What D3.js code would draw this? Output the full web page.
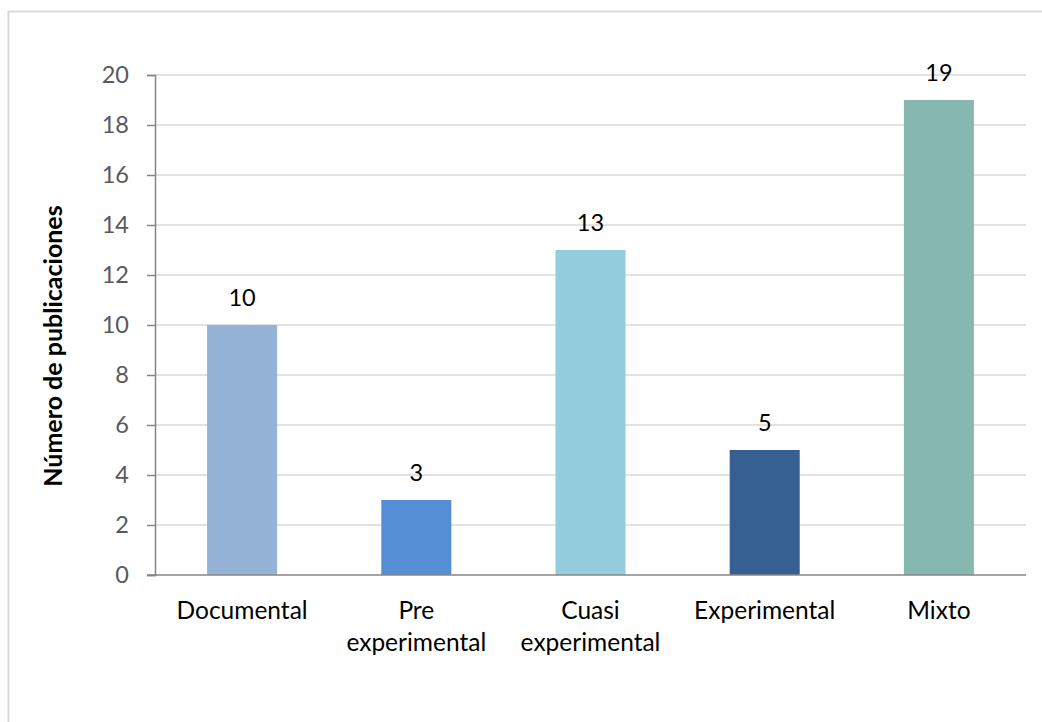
<!DOCTYPE html>
<html>
<head>
<meta charset="utf-8">
<script src="https://cdn.jsdelivr.net/npm/d3@7"></script>
<style>
html,body{margin:0;padding:0;background:#fff;}
svg{display:block;}
text{font-family:Lato,"Open Sans",sans-serif;}
</style>
</head>
<body>
<svg id="chart" width="1042" height="722"></svg>
<script>
const categories = [["Documental"], ["Pre", "experimental"], ["Cuasi", "experimental"], ["Experimental"], ["Mixto"]];
const categoryKeys = ["Documental", "Pre experimental", "Cuasi experimental", "Experimental", "Mixto"];
const values = [10, 3, 13, 5, 19];
const barColors = ["#95b3d7", "#558ed5", "#93cddd", "#376092", "#86b8b0"];
const yTicks = [0, 2, 4, 6, 8, 10, 12, 14, 16, 18, 20];
const yTitle = "Número de publicaciones";

const svg = d3.select("#chart");
const plotL = 155, plotR = 1026, plotT = 75, plotB = 575;

// outer frame (only top and left edges visible)
svg.append("rect").attr("x", 8.5).attr("y", 11.5).attr("width", 1100).attr("height", 800)
  .attr("fill", "none").attr("stroke", "#d9d9d9").attr("stroke-width", 2);

const x = d3.scaleBand().domain(categoryKeys).range([plotL, plotR]).paddingInner(0.598).paddingOuter(0.299);
const y = d3.scaleLinear().domain([0, 20]).range([plotB, plotT]);

// gridlines
svg.append("g").selectAll("line").data(yTicks.filter(t => t > 0)).join("line")
  .attr("x1", plotL).attr("x2", plotR)
  .attr("y1", d => y(d)).attr("y2", d => y(d))
  .attr("stroke", "#d9d9d9").attr("stroke-width", 1.5);

// bars
svg.append("g").selectAll("rect").data(values).join("rect")
  .attr("x", (d, i) => x(categoryKeys[i]))
  .attr("width", x.bandwidth())
  .attr("y", d => y(d))
  .attr("height", d => y(0) - y(d))
  .attr("fill", (d, i) => barColors[i]);

// y axis
const yAxis = d3.axisLeft(y).tickValues(yTicks).tickSize(8).tickPadding(18).tickFormat(d3.format("d"));
const gy = svg.append("g").attr("transform", `translate(${plotL},0)`).call(yAxis);
gy.select(".domain").attr("stroke", "#868686").attr("stroke-width", 1.5);
gy.selectAll(".tick line").attr("stroke", "#868686").attr("stroke-width", 1.5);
gy.selectAll(".tick text").attr("fill", "#595959").style("font-size", "23.5px").style("font-family", "Lato, sans-serif");

// x axis baseline
svg.append("line").attr("x1", plotL - 8).attr("x2", plotR).attr("y1", y(0)).attr("y2", y(0))
  .attr("stroke", "#868686").attr("stroke-width", 1.5);

// category labels
const cl = svg.append("g").selectAll("text").data(categories).join("text")
  .attr("text-anchor", "middle")
  .attr("fill", "#000")
  .style("font-size", "24.5px");
cl.each(function(lines, i) {
  const cx = x(categoryKeys[i]) + x.bandwidth() / 2;
  d3.select(this).selectAll("tspan").data(lines).join("tspan")
    .attr("x", cx).attr("y", (d, j) => 619 + j * 32).text(d => d);
});

// value labels
svg.append("g").selectAll("text").data(values).join("text")
  .attr("x", (d, i) => x(categoryKeys[i]) + x.bandwidth() / 2)
  .attr("y", d => y(d) - 19)
  .attr("text-anchor", "middle")
  .attr("fill", "#000")
  .style("font-size", "23.5px")
  .text(d => d);

// y title
svg.append("text")
  .attr("transform", "translate(62,346) rotate(-90)")
  .attr("text-anchor", "middle")
  .attr("fill", "#000")
  .style("font-size", "25px")
  .style("font-weight", "bold")
  .text(yTitle);
</script>
</body>
</html>
